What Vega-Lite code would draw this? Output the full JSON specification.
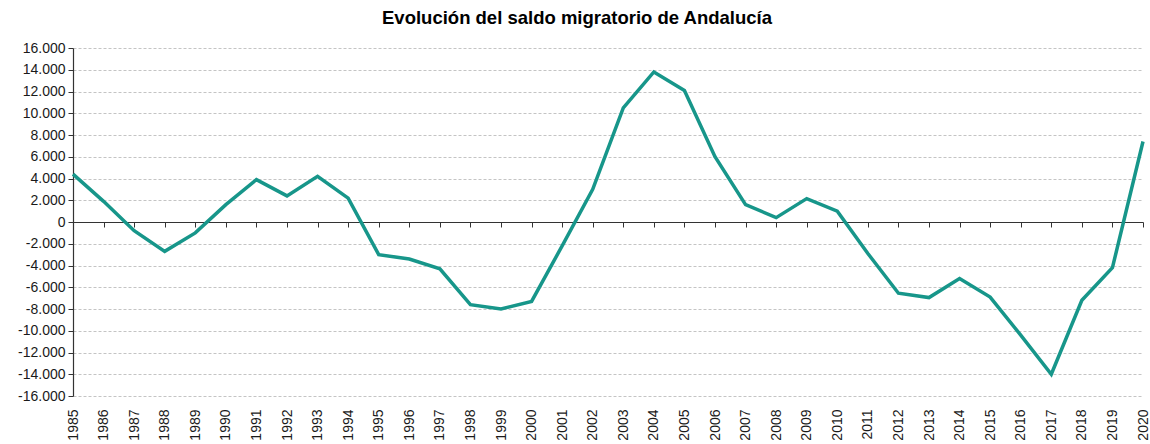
{
  "$schema": "https://vega.github.io/schema/vega-lite/v6.json",
  "autosize": {"type": "none"},
  "width": 1070,
  "height": 348,
  "padding": {"left": 73, "top": 48, "right": 7, "bottom": 48},
  "background": "#ffffff",
  "title": {
    "text": "Evolución del saldo migratorio de Andalucía",
    "font": "Liberation Sans",
    "fontSize": 18.5,
    "fontWeight": "bold",
    "color": "#000000",
    "anchor": "middle",
    "frame": "group",
    "dx": -31,
    "offset": 14
  },
  "config": {
    "view": {"stroke": null},
    "axis": {"labelFont": "Liberation Sans", "labelFontSize": 14, "labelColor": "#1a1a1a"}
  },
  "data": {
    "values": [
      {"year": "1985", "saldo": 4400},
      {"year": "1986", "saldo": 1900},
      {"year": "1987", "saldo": -800},
      {"year": "1988", "saldo": -2700},
      {"year": "1989", "saldo": -1000},
      {"year": "1990", "saldo": 1600},
      {"year": "1991", "saldo": 3900},
      {"year": "1992", "saldo": 2400},
      {"year": "1993", "saldo": 4200},
      {"year": "1994", "saldo": 2200},
      {"year": "1995", "saldo": -3000},
      {"year": "1996", "saldo": -3400},
      {"year": "1997", "saldo": -4300},
      {"year": "1998", "saldo": -7600},
      {"year": "1999", "saldo": -8000},
      {"year": "2000", "saldo": -7300},
      {"year": "2001", "saldo": -2200},
      {"year": "2002", "saldo": 3000},
      {"year": "2003", "saldo": 10500},
      {"year": "2004", "saldo": 13800},
      {"year": "2005", "saldo": 12100},
      {"year": "2006", "saldo": 6000},
      {"year": "2007", "saldo": 1600},
      {"year": "2008", "saldo": 400},
      {"year": "2009", "saldo": 2150},
      {"year": "2010", "saldo": 1000},
      {"year": "2011", "saldo": -2900},
      {"year": "2012", "saldo": -6550},
      {"year": "2013", "saldo": -6950},
      {"year": "2014", "saldo": -5200},
      {"year": "2015", "saldo": -6900},
      {"year": "2016", "saldo": -10400},
      {"year": "2017", "saldo": -14000},
      {"year": "2018", "saldo": -7200},
      {"year": "2019", "saldo": -4200},
      {"year": "2020", "saldo": 7400}
    ]
  },
  "resolve": {"axis": {"x": "independent", "y": "independent"}},
  "layer": [
    {
      "mark": {"type": "point", "opacity": 0},
      "encoding": {
        "x": {
          "field": "year", "type": "ordinal",
          "scale": {"padding": 0},
          "axis": {
            "orient": "bottom", "offset": -174, "title": null,
            "labels": false, "ticks": true, "tickSize": 5, "tickColor": "#333333",
            "domain": true, "domainColor": "#333333", "domainWidth": 1, "grid": false
          }
        },
        "y": {
          "field": "saldo", "type": "quantitative",
          "scale": {"domain": [-16000, 16000], "nice": false, "zero": false},
          "axis": {
            "title": null,
            "values": [-16000, -14000, -12000, -10000, -8000, -6000, -4000, -2000, 0, 2000, 4000, 6000, 8000, 10000, 12000, 14000, 16000],
            "grid": true, "gridColor": "#c4c4c4", "gridDash": [3, 2], "gridWidth": 1,
            "domain": true, "domainColor": "#333333", "domainWidth": 1.2,
            "ticks": true, "tickColor": "#333333", "tickSize": 5,
            "labelPadding": 3,
            "labelExpr": "(datum.value < 0 ? '-' : '') + replace(format(abs(datum.value), ','), ',', '.')"
          }
        }
      }
    },
    {
      "mark": {"type": "line", "color": "#17968a", "strokeWidth": 3.5, "strokeJoin": "miter"},
      "encoding": {
        "x": {
          "field": "year", "type": "ordinal",
          "scale": {"padding": 0},
          "axis": {
            "orient": "bottom", "title": null, "labelAngle": -90, "labelAlign": "right",
            "labelBaseline": "middle", "labelPadding": 13,
            "ticks": false, "domain": false, "grid": false
          }
        },
        "y": {
          "field": "saldo", "type": "quantitative",
          "scale": {"domain": [-16000, 16000], "nice": false, "zero": false},
          "axis": null
        }
      }
    }
  ]
}
